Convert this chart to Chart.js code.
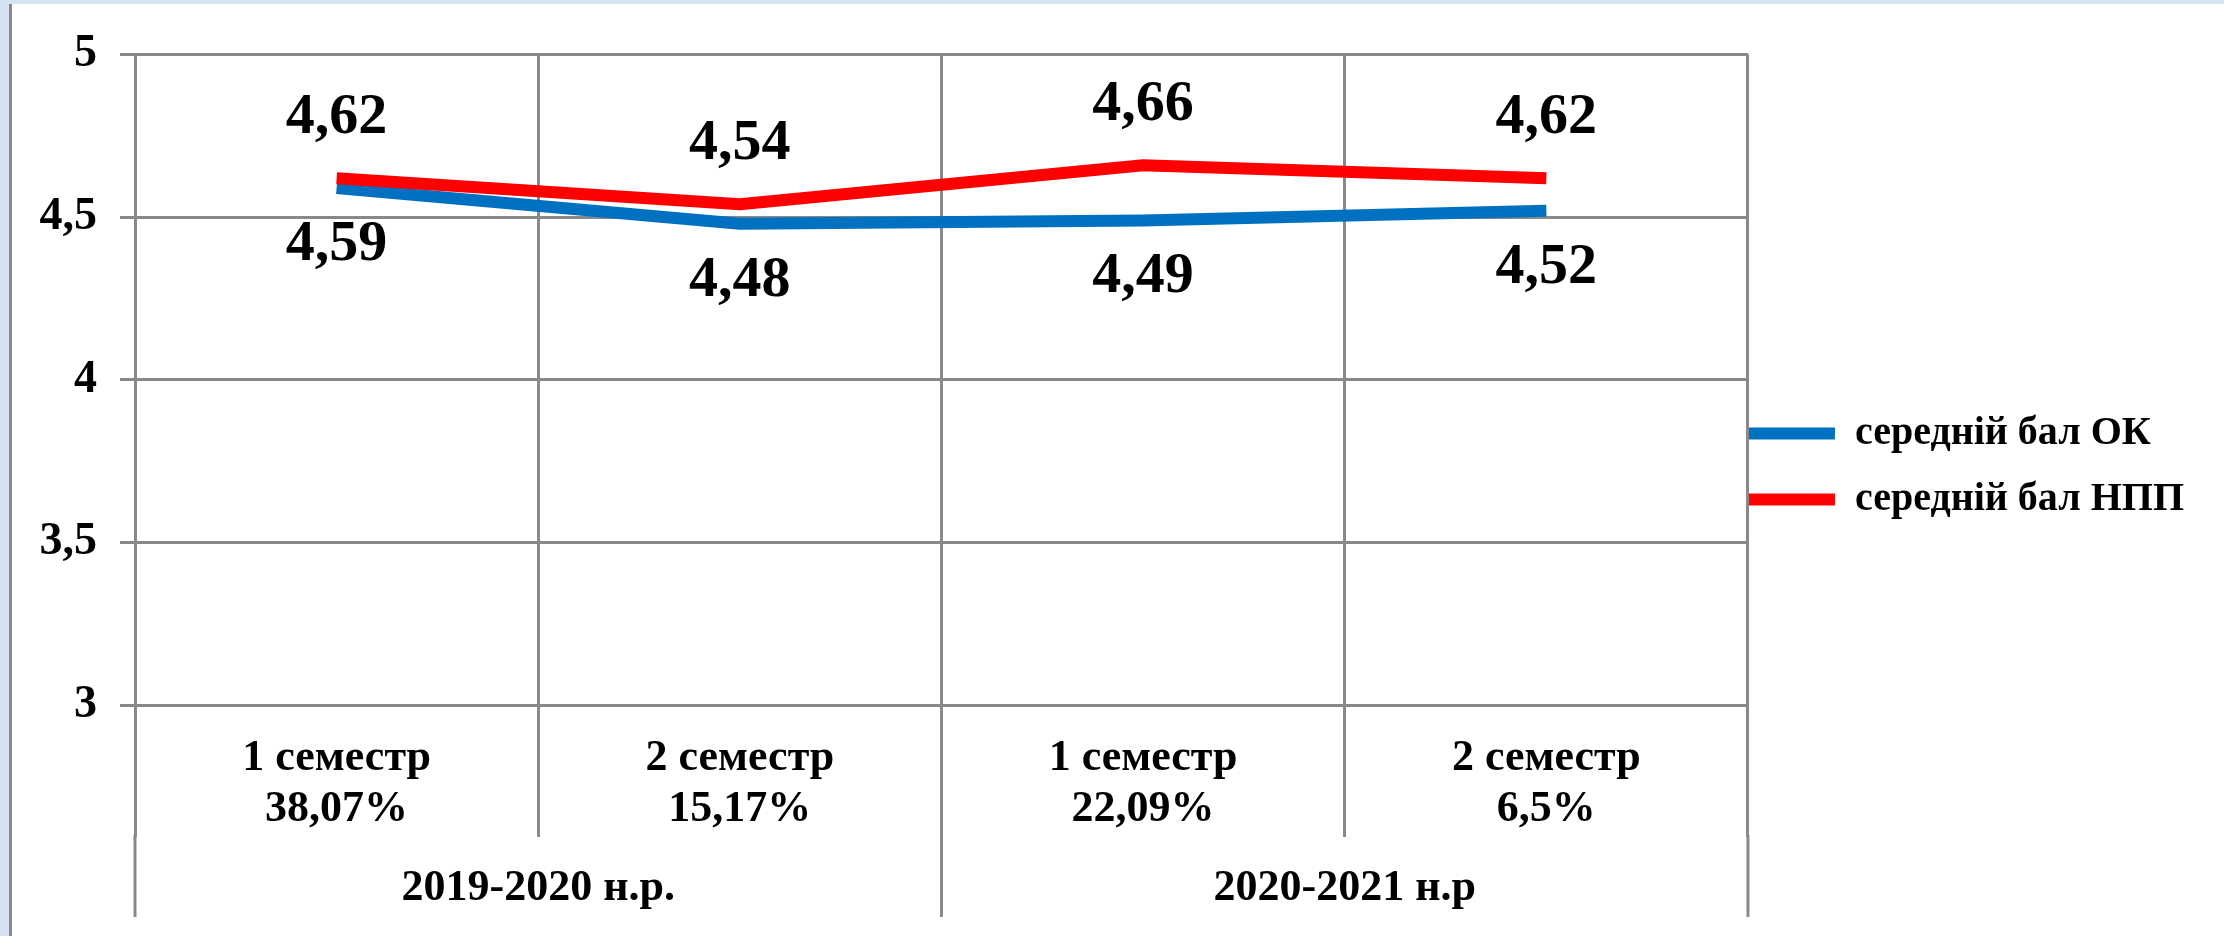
<!DOCTYPE html>
<html lang="uk">
<head>
<meta charset="utf-8">
<title>Середній бал ОК і НПП</title>
<script src="https://cdn.jsdelivr.net/npm/chart.js@4.4.1/dist/chart.umd.min.js"></script>
<style>
  html, body { margin: 0; padding: 0; background: #d4e2f2; overflow: hidden; }
  #frame { position: absolute; left: 9px; top: 4px; width: 2212px; height: 932px; border-left: 3px solid #8a8a8a; background: #fff; }
  canvas { display: block; }
</style>
</head>
<body>
<div id="frame"><canvas id="myChart" width="2212" height="932"></canvas></div>
<script>
// DATA -
var semesters = [['1 семестр', '38,07%'], ['2 семестр', '15,17%'], ['1 семестр', '22,09%'], ['2 семестр', '6,5%']];
var years = ['2019-2020 н.р.', '2020-2021 н.р'];
var yearSpan = [2, 2];
var seriesNames = ['середній бал ОК', 'середній бал НПП'];
var avgOK = [4.59, 4.48, 4.49, 4.52];
var avgNPP = [4.62, 4.54, 4.66, 4.62];
var yTicks = [3, 3.5, 4, 4.5, 5];
// DATA |

var GRID = '#898989';
var SERIF = "'Liberation Serif', 'Times New Roman', serif";
var BLUE = '#0070c0';
var RED = '#ff0000';

function comma(v) {
  return String(v).replace('.', ',');
}

// value labels: under the blue line, over the red one
var labelShift = [57, -60];
var pointLabels = {
  id: 'pointLabels',
  afterDatasetsDraw: function(chart) {
    var ctx = chart.ctx;
    ctx.save();
    ctx.font = 'bold 58px ' + SERIF;
    ctx.fillStyle = '#000';
    ctx.textAlign = 'center';
    ctx.textBaseline = 'middle';
    chart.data.datasets.forEach(function(ds, i) {
      chart.getDatasetMeta(i).data.forEach(function(pt, j) {
        ctx.fillText(comma(ds.data[j]), pt.x, pt.y + labelShift[i]);
      });
    });
    ctx.restore();
  }
};

// second row of the category axis (academic years)
var yearAxis = {
  id: 'yearAxis',
  afterDraw: function(chart) {
    var x = chart.scales.x;
    var area = chart.chartArea;
    var ctx = chart.ctx;
    var edge = function(i) {
      if (i <= 0) return area.left;
      if (i >= semesters.length) return area.right;
      return (x.getPixelForValue(i - 1) + x.getPixelForValue(i)) / 2;
    };
    ctx.save();
    ctx.strokeStyle = GRID;
    ctx.lineWidth = 3;
    ctx.font = 'bold 44px ' + SERIF;
    ctx.fillStyle = '#000';
    ctx.textAlign = 'center';
    ctx.textBaseline = 'middle';
    var start = 0;
    years.forEach(function(name, k) {
      var end = start + yearSpan[k];
      [edge(start), edge(end)].forEach(function(px) {
        ctx.beginPath();
        ctx.moveTo(px, area.bottom + 130);
        ctx.lineTo(px, area.bottom + 212);
        ctx.stroke();
      });
      ctx.fillText(name, (edge(start) + edge(end)) / 2, area.bottom + 184);
      start = end;
    });
    ctx.restore();
  }
};

// legend sits right against the plot, a bit above the middle
var legendShift = {
  id: 'legendShift',
  afterLayout: function(chart) {
    chart.legend.left -= 25;
    chart.legend.top -= 48;
  }
};

var ctx = document.getElementById('myChart');
var myChart = new Chart(ctx, {
  type: 'line',
  data: {
    labels: semesters,
    datasets: [{
      label: seriesNames[0],
      data: avgOK,
      borderColor: BLUE,
      borderWidth: 12,
      pointRadius: 0,
      pointBorderWidth: 12,
      pointBorderColor: BLUE,
      borderJoinStyle: 'round',
      tension: 0,
      order: 1
    }, {
      label: seriesNames[1],
      data: avgNPP,
      borderColor: RED,
      borderWidth: 12,
      pointRadius: 0,
      pointBorderWidth: 12,
      pointBorderColor: RED,
      borderJoinStyle: 'round',
      tension: 0,
      order: 0
    }]
  },
  options: {
    responsive: false,
    animation: false,
    layout: { padding: { left: 0, top: 41, right: 5, bottom: 0 } },
    plugins: {
      tooltip: { enabled: false },
      legend: {
        position: 'right',
        labels: {
          usePointStyle: true,
          pointStyle: 'line',
          pointStyleWidth: 86,
          padding: 26,
          color: '#000',
          font: { family: SERIF, size: 40, weight: 'bold' },
          sort: function(a, b) { return a.datasetIndex - b.datasetIndex; }
        }
      }
    },
    scales: {
      x: {
        offset: true,
        grid: { color: GRID, lineWidth: 3, offset: true, tickLength: 132 },
        border: { color: GRID, width: 3 },
        ticks: {
          color: '#000',
          padding: -104,
          maxRotation: 0,
          autoSkip: false,
          font: { family: SERIF, size: 44, weight: 'bold', lineHeight: 1.16 }
        },
        afterFit: function(s) { s.height = 231; }
      },
      y: {
        min: yTicks[0],
        max: yTicks[yTicks.length - 1],
        afterBuildTicks: function(s) {
          s.ticks = yTicks.map(function(v) { return { value: v }; });
        },
        grid: { color: GRID, lineWidth: 3, tickLength: 15 },
        border: { color: GRID, width: 3 },
        ticks: {
          color: '#000',
          padding: 23,
          font: { family: SERIF, size: 46, weight: 'bold' },
          callback: function(v) { return comma(v); }
        },
        afterFit: function(s) { s.width = 123; }
      }
    }
  },
  plugins: [pointLabels, yearAxis, legendShift]
});
</script>
</body>
</html>
